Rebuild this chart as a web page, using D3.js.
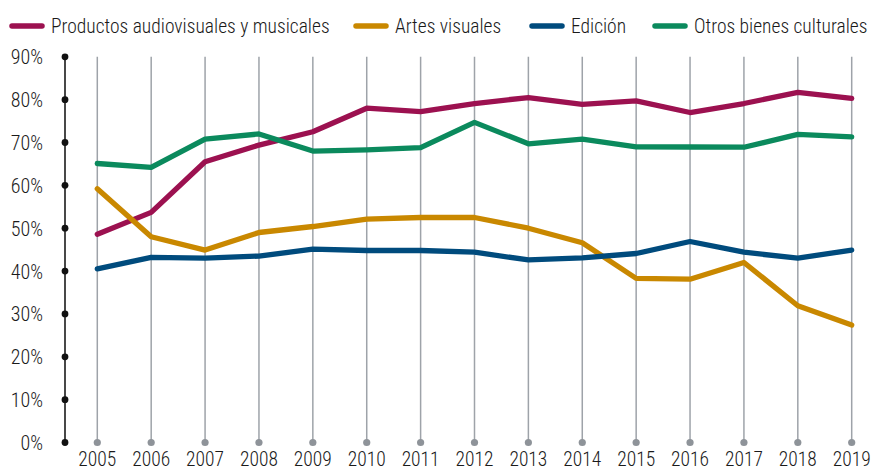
<!DOCTYPE html>
<html>
<head>
<meta charset="utf-8">
<script src="https://cdn.jsdelivr.net/npm/d3@7"></script>
<style>
  html, body { margin: 0; padding: 0; background: #fff; }
  svg { display: block; }
  text { font-family: "Liberation Sans Narrow", "Roboto Condensed", "Open Sans", sans-serif; font-weight: 300; fill: #1a1a1a; }
</style>
</head>
<body>
<svg id="chart" width="872" height="470"></svg>
<script>
// Years along the horizontal axis
const years = [2005, 2006, 2007, 2008, 2009, 2010, 2011, 2012, 2013, 2014, 2015, 2016, 2017, 2018, 2019];

// Shares by category (%)
const productos = [48.6, 53.7, 65.5, 69.4, 72.5, 78.0, 77.2, 79.1, 80.5, 78.9, 79.7, 77.0, 79.1, 81.7, 80.3];
const artes     = [59.2, 48.0, 44.9, 49.0, 50.4, 52.1, 52.5, 52.5, 50.0, 46.6, 38.3, 38.1, 42.0, 31.9, 27.4];
const edicion   = [40.5, 43.2, 43.0, 43.5, 45.1, 44.8, 44.8, 44.4, 42.6, 43.1, 44.1, 46.9, 44.4, 43.0, 44.9];
const otros     = [65.1, 64.2, 70.8, 72.0, 68.0, 68.3, 68.8, 74.7, 69.7, 70.8, 69.0, 68.95, 68.9, 71.9, 71.3];

const seriesNames = ["Productos audiovisuales y musicales", "Artes visuales", "Edición", "Otros bienes culturales"];
const yTicks = [0, 10, 20, 30, 40, 50, 60, 70, 80, 90];

const series = [
  { name: seriesNames[0], values: productos, color: "#9c1150" },
  { name: seriesNames[1], values: artes,     color: "#c98800" },
  { name: seriesNames[2], values: edicion,   color: "#004b7d" },
  { name: seriesNames[3], values: otros,     color: "#0b8a5d" }
];

const svg = d3.select("#chart");

const x = d3.scalePoint().domain(years).range([97.3, 851.7]);
const y = d3.scaleLinear().domain([0, 90]).range([442.5, 56.8]);
const axisX = 65;

// Vertical year gridlines with dots at the base
const grid = svg.append("g");
grid.selectAll("line").data(years).join("line")
  .attr("x1", d => x(d)).attr("x2", d => x(d))
  .attr("y1", y(90)).attr("y2", y(0))
  .attr("stroke", "#9ea3a9").attr("stroke-width", 1.5);
grid.selectAll("circle").data(years).join("circle")
  .attr("cx", d => x(d)).attr("cy", y(0)).attr("r", 3.6)
  .attr("fill", "#8e9399");

// Year labels
svg.append("g").selectAll("text").data(years).join("text")
  .attr("x", d => x(d)).attr("y", 466)
  .attr("text-anchor", "middle")
  .attr("font-size", 19.5)
  .text(d => d);

// Y axis: black line with dots at each tick
const yAxis = svg.append("g");
yAxis.append("line")
  .attr("x1", axisX).attr("x2", axisX)
  .attr("y1", y(90)).attr("y2", y(0))
  .attr("stroke", "#1a1a1a").attr("stroke-width", 1.6);
yAxis.selectAll("circle").data(yTicks).join("circle")
  .attr("cx", axisX).attr("cy", d => y(d)).attr("r", 3.4)
  .attr("fill", "#111");
yAxis.selectAll("text").data(yTicks).join("text")
  .attr("x", 43).attr("y", d => y(d) + 7.5)
  .attr("text-anchor", "end")
  .attr("font-size", 20)
  .text(d => d + "%");

// Lines
const line = d3.line()
  .x((d, i) => x(years[i]))
  .y(d => y(d));

svg.append("g").selectAll("path").data(series).join("path")
  .attr("d", d => line(d.values))
  .attr("fill", "none")
  .attr("stroke", d => d.color)
  .attr("stroke-width", 5.3)
  .attr("stroke-linejoin", "round")
  .attr("stroke-linecap", "round");

// Legend
const legendX = [10, 354, 530, 653];
const legend = svg.append("g").selectAll("g").data(series).join("g")
  .attr("transform", (d, i) => `translate(${legendX[i]},26)`);
legend.append("line")
  .attr("x1", 2).attr("x2", 32).attr("y1", 0).attr("y2", 0)
  .attr("stroke", d => d.color).attr("stroke-width", 5.5)
  .attr("stroke-linecap", "round");
legend.append("text")
  .attr("x", 41).attr("y", 7)
  .attr("font-size", 19.5)
  .text(d => d.name);
</script>
</body>
</html>
